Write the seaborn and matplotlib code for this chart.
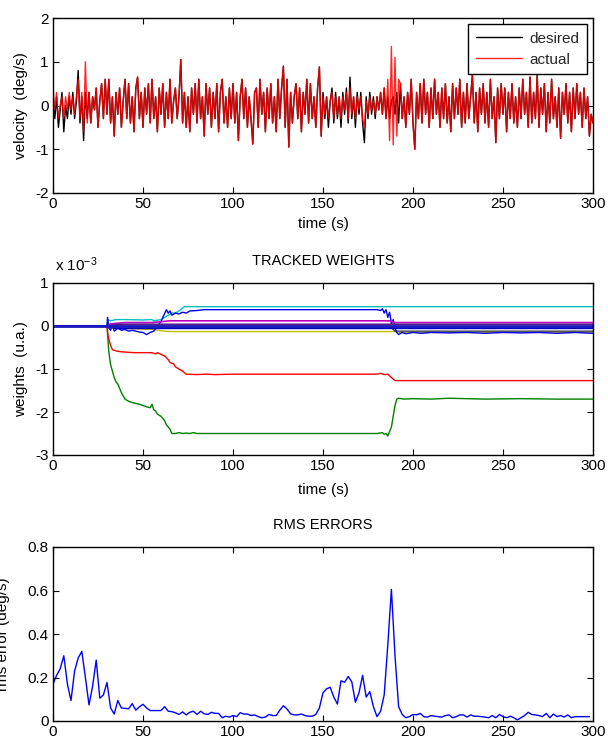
import numpy as np
import pandas as pd
import matplotlib
matplotlib.use("Agg")
import matplotlib.pyplot as plt
import seaborn as sns

# ---------------- data ----------------
# velocity (deg/s), one sample per second, t = 0..300
time_s = list(range(0, 301))
desired = [
    0.1, -0.3, 0.2, -0.5, -0.1, 0.3, -0.6, 0.0, -0.3, 0.2,
    -0.2, 0.3, -0.3, 0.1, 0.8, -0.4, 0.2, -0.8, 0.3, -0.3,
    0.3, -0.4, 0.2, -0.1, 0.4, -0.5, 0.1, 0.5, -0.3, 0.6,
    -0.2, 0.6, -0.4, 0.2, -0.7, 0.3, -0.2, 0.4, -0.5, 0.1,
    0.6, -0.3, 0.5, -0.4, 0.2, -0.6, 0.4, 0.65, -0.3, 0.3,
    -0.5, 0.4, -0.2, 0.5, -0.4, 0.6, -0.3, 0.2, -0.6, 0.4,
    -0.2, 0.5, -0.5, 0.3, -0.3, 0.6, -0.4, 0.1, 0.4, -0.3,
    0.2, 1.05, -0.4, 0.3, -0.5, 0.2, -0.6, 0.4, -0.2, 0.5,
    -0.4, 0.6, -0.3, 0.2, -0.7, 0.5, -0.2, 0.4, -0.5, 0.3,
    -0.3, 0.5, -0.6, 0.3, 0.6, -0.4, 0.2, -0.5, 0.4, -0.3,
    0.5, -0.4, 0.3, -0.8, 0.2, 0.6, -0.3, 0.4, -0.5, 0.2,
    -0.3, -0.88, 0.3, 0.4, -0.5, 0.6, -0.2, 0.3, -0.6, 0.4,
    -0.3, 0.5, -0.4, 0.2, -0.6, 0.6, -0.3, 0.4, 0.9, -0.5,
    0.6, -0.95, 0.3, -0.4, 0.2, 0.5, -0.3, 0.4, -0.6, 0.3,
    -0.2, 0.6, -0.4, 0.5, -0.3, 0.2, -0.5, 0.4, 0.88, -0.7,
    0.3, -0.3, 0.2, -0.5, 0.1, 0.4, -0.4, 0.3, -0.3, 0.2,
    -0.5, 0.3, -0.2, 0.4, -0.4, 0.65, -0.3, 0.2, -0.5, 0.3,
    -0.2, 0.3, -0.4, -0.85, 0.2, -0.3, 0.3, -0.2, 0.2, -0.3,
    0.2, -0.1, 0.3, -0.2, 0.4, -0.3, 0.2, -0.3, 0.1, 0.2,
    -0.2, 0.3, -0.4, 0.5, -0.3, 0.2, -0.5, 0.3, -0.2, 0.6,
    -0.4, -1.0, 0.3, -0.3, 0.5, -0.4, 0.6, -0.2, 0.3, -0.5,
    0.4, -0.3, 0.6, -0.2, 0.3, -0.5, 0.4, -0.3, 0.5, -0.4,
    0.2, -0.6, 0.5, -0.3, 0.4, -0.2, 0.6, -0.5, 0.3, -0.4,
    0.5, -0.3, 0.2, 0.7, -0.4, 0.3, -0.6, 0.4, -0.2, 0.5,
    -0.4, 0.3, -0.5, 0.6, -0.3, 0.2, -0.85, 0.4, -0.3, 0.5,
    -0.2, 0.4, -0.6, 0.3, -0.3, 0.5, -0.4, 0.2, -0.5, 0.4,
    -0.3, 0.6, -0.2, 0.3, -0.5, 0.65, -0.4, 0.3, -0.3, 0.7,
    -0.5, 0.4, -0.2, 0.5, -0.6, 0.3, -0.4, 0.6, -0.3, 0.2,
    -0.5, 0.4, -0.75, 0.3, -0.2, 0.5, -0.4, 0.3, -0.6, 0.4,
    -0.3, 0.5, -0.2, 0.3, -0.5, 0.4, -0.3, 0.2, -0.7, -0.2,
    -0.4,
]
actual = [
    0.4, -0.1, 0.3, -0.3, 0.0, 0.2, -0.3, 0.2, -0.1, 0.3,
    -0.1, 0.2, -0.2, 0.2, 0.6, -0.3, 0.3, -0.6, 1.0, -0.4,
    0.3, -0.4, 0.2, -0.1, 0.4, -0.5, 0.1, 0.5, -0.3, 0.6,
    -0.2, 0.6, -0.4, 0.2, -0.7, 0.3, -0.2, 0.4, -0.5, 0.1,
    0.6, -0.3, 0.5, -0.4, 0.2, -0.6, 0.4, 0.65, -0.3, 0.3,
    -0.5, 0.4, -0.2, 0.5, -0.4, 0.6, -0.3, 0.2, -0.6, 0.4,
    -0.2, 0.5, -0.5, 0.3, -0.3, 0.6, -0.4, 0.1, 0.4, -0.3,
    0.2, 1.05, -0.4, 0.3, -0.5, 0.2, -0.6, 0.4, -0.2, 0.5,
    -0.4, 0.6, -0.3, 0.2, -0.7, 0.5, -0.2, 0.4, -0.5, 0.3,
    -0.3, 0.5, -0.6, 0.3, 0.6, -0.4, 0.2, -0.5, 0.4, -0.3,
    0.5, -0.4, 0.3, -0.8, 0.2, 0.6, -0.3, 0.4, -0.5, 0.2,
    -0.3, -0.88, 0.3, 0.4, -0.5, 0.6, -0.2, 0.3, -0.6, 0.4,
    -0.3, 0.5, -0.4, 0.2, -0.6, 0.6, -0.3, 0.4, 0.9, -0.5,
    0.6, -0.95, 0.3, -0.4, 0.2, 0.5, -0.3, 0.4, -0.6, 0.3,
    -0.2, 0.6, -0.4, 0.5, -0.3, 0.2, -0.5, 0.4, 0.88, -0.7,
    0.2, -0.2, 0.2, -0.3, 0.1, 0.3, -0.3, 0.2, -0.2, 0.2,
    -0.3, 0.2, -0.1, 0.3, -0.3, 0.4, -0.2, 0.2, -0.3, 0.2,
    -0.1, 0.2, -0.3, -0.5, 0.1, -0.2, 0.2, -0.1, 0.1, -0.2,
    0.2, -0.1, 0.3, -0.2, 0.4, -0.3, 0.6, -0.8, 1.35, -0.9,
    1.1, -0.7, 0.6, 0.5, -0.3, 0.2, -0.5, 0.3, -0.2, 0.6,
    -0.4, -1.0, 0.3, -0.3, 0.5, -0.4, 0.6, -0.2, 0.3, -0.5,
    0.4, -0.3, 0.6, -0.2, 0.3, -0.5, 0.4, -0.3, 0.5, -0.4,
    0.2, -0.6, 0.5, -0.3, 0.4, -0.2, 0.6, -0.5, 0.3, -0.4,
    0.5, -0.3, 0.2, 0.7, -0.4, 0.3, -0.6, 0.4, -0.2, 0.5,
    -0.4, 0.3, -0.5, 0.6, -0.3, 0.2, -0.85, 0.4, -0.3, 0.5,
    -0.2, 0.4, -0.6, 0.3, -0.3, 0.5, -0.4, 0.2, -0.5, 0.4,
    -0.3, 0.6, -0.2, 0.3, -0.5, 0.65, -0.4, 0.3, -0.3, 0.7,
    -0.5, 0.4, -0.2, 0.5, -0.6, 0.3, -0.4, 0.6, -0.3, 0.2,
    -0.5, 0.4, -0.75, 0.3, -0.2, 0.5, -0.4, 0.3, -0.6, 0.4,
    -0.3, 0.5, -0.2, 0.3, -0.5, 0.4, -0.3, 0.2, -0.7, -0.2,
    -0.4,
]

# tracked weights (x 1e-3), (time, value) breakpoints
w_green = [(0, 0), (30, 0), (30.5, -0.3), (31, -0.6), (32, -0.9), (33, -1.05), (34, -1.2),
           (35, -1.3), (36, -1.35), (37, -1.45), (38, -1.55), (40, -1.7), (42, -1.75),
           (44, -1.78), (46, -1.8), (48, -1.82), (50, -1.85), (52, -1.88), (54, -1.9),
           (55, -1.82), (56, -1.95), (57, -1.98), (58, -2.05), (60, -2.1), (62, -2.2),
           (63, -2.3), (64, -2.35), (65, -2.4), (66, -2.5), (68, -2.5), (70, -2.48),
           (72, -2.5), (74, -2.49), (76, -2.5), (78, -2.48), (80, -2.5), (100, -2.5),
           (150, -2.5), (180, -2.5), (183, -2.48), (184, -2.52), (185, -2.5), (186, -2.56),
           (187, -2.45), (188, -2.35), (189, -2.1), (190, -1.85), (191, -1.7), (192, -1.68),
           (195, -1.7), (200, -1.69), (210, -1.7), (220, -1.68), (240, -1.7), (260, -1.69),
           (280, -1.7), (300, -1.7)]
w_red = [(0, 0), (30, 0), (30.5, -0.2), (31, -0.3), (32, -0.45), (33, -0.55), (35, -0.58),
         (38, -0.6), (45, -0.62), (55, -0.62), (57, -0.65), (58, -0.62), (60, -0.66),
         (62, -0.7), (64, -0.78), (65, -0.85), (67, -0.88), (68, -0.95), (70, -1.0),
         (72, -1.05), (74, -1.12), (80, -1.13), (85, -1.12), (90, -1.13), (100, -1.12),
         (150, -1.12), (180, -1.12), (182, -1.1), (184, -1.13), (186, -1.12), (188, -1.2),
         (190, -1.27), (300, -1.27)]
w_cyan = [(0, 0), (30, 0), (30.5, 0.15), (32, 0.12), (35, 0.15), (40, 0.15), (50, 0.14),
          (55, 0.15), (56, 0.12), (60, 0.15), (62, 0.2), (64, 0.25), (66, 0.3), (68, 0.3),
          (70, 0.35), (72, 0.42), (73, 0.45), (300, 0.45)]
w_blue = [(0, 0), (30, 0), (30.3, 0.2), (31, -0.05), (32, -0.1), (33, 0.05), (34, -0.12),
          (36, -0.05), (38, -0.1), (40, -0.08), (42, -0.12), (44, -0.1), (46, -0.12),
          (48, -0.14), (50, -0.15), (52, -0.2), (54, -0.15), (56, -0.12), (58, 0.0),
          (60, 0.1), (61, 0.2), (63, 0.38), (64, 0.3), (65, 0.35), (66, 0.25), (68, 0.3),
          (70, 0.28), (72, 0.32), (74, 0.3), (76, 0.35), (80, 0.36), (84, 0.38), (100, 0.38),
          (150, 0.38), (180, 0.38), (182, 0.36), (183, 0.4), (184, 0.3), (185, 0.38),
          (186, 0.2), (187, 0.32), (188, 0.05), (189, 0.15), (190, -0.05), (191, -0.15),
          (192, -0.2), (194, -0.15), (196, -0.18), (200, -0.15), (205, -0.17), (210, -0.15),
          (220, -0.16), (230, -0.15), (240, -0.17), (250, -0.15), (260, -0.16), (270, -0.15),
          (280, -0.17), (290, -0.15), (300, -0.17)]
w_magenta = [(0, 0), (30, 0), (32, 0.05), (40, 0.08), (55, 0.08), (60, 0.1), (65, 0.12),
             (187, 0.12), (190, 0.08), (300, 0.08)]
w_yellow = [(0, 0), (30, 0), (32, -0.05), (45, -0.07), (55, -0.08), (62, -0.12), (66, -0.13),
            (190, -0.13), (192, -0.15), (300, -0.15)]
w_gray = [(0, 0), (30, 0), (40, 0.03), (186, 0.03), (190, -0.12), (300, -0.12)]
w_zero_a = [(0, 0), (300, 0)]
w_zero_b = [(0, 0), (30, 0), (35, -0.05), (300, -0.05)]
w_zero_c = [(0, 0), (30, 0), (35, 0.04), (300, 0.04)]

# RMS error (deg/s), every 2 s
rms_t = list(range(0, 300, 2))
rms_v = [
    0.17, 0.21, 0.24, 0.30, 0.17, 0.094, 0.23, 0.29, 0.32, 0.20,
    0.074, 0.16, 0.28, 0.105, 0.12, 0.177, 0.06, 0.032, 0.094, 0.06,
    0.058, 0.056, 0.08, 0.05, 0.065, 0.077, 0.06, 0.048, 0.048, 0.048,
    0.048, 0.066, 0.045, 0.043, 0.038, 0.03, 0.042, 0.028, 0.04, 0.045,
    0.03, 0.045, 0.033, 0.03, 0.04, 0.035, 0.035, 0.015, 0.022, 0.018,
    0.025, 0.02, 0.038, 0.032, 0.032, 0.025, 0.028, 0.02, 0.015, 0.018,
    0.03, 0.025, 0.025, 0.05, 0.07, 0.055, 0.033, 0.028, 0.028, 0.032,
    0.025, 0.022, 0.022, 0.03, 0.06, 0.13, 0.148, 0.155, 0.11, 0.078,
    0.185, 0.178, 0.205, 0.18, 0.086, 0.13, 0.21, 0.11, 0.135, 0.066,
    0.02, 0.045, 0.12, 0.35, 0.605, 0.30, 0.066, 0.03, 0.015, 0.02,
    0.03, 0.028, 0.035, 0.02, 0.018, 0.025, 0.022, 0.02, 0.018, 0.025,
    0.028, 0.015, 0.02, 0.028, 0.028, 0.018, 0.028, 0.022, 0.022, 0.02,
    0.018, 0.015, 0.025, 0.015, 0.03, 0.02, 0.015, 0.022, 0.015, 0.005,
    0.015, 0.025, 0.04, 0.03, 0.028, 0.025, 0.02, 0.035, 0.015, 0.032,
    0.02, 0.025, 0.018, 0.028, 0.015, 0.02, 0.02, 0.02, 0.02, 0.02,
]

x_ticks = [0, 50, 100, 150, 200, 250, 300]
vel_ticks = [-2, -1, 0, 1, 2]
w_ticks = [-3, -2, -1, 0, 1]
rms_ticks = [0, 0.2, 0.4, 0.6, 0.8]

# ---------------- style ----------------
sns.set_theme(style="ticks")
plt.rcParams['font.family'] = ['Liberation Sans', 'DejaVu Sans']
plt.rcParams['axes.edgecolor'] = 'black'
plt.rcParams['axes.linewidth'] = 1.0
plt.rcParams['axes.unicode_minus'] = False
plt.rcParams['mathtext.default'] = 'regular'

W, H = 608, 742
fig = plt.figure(figsize=(W / 100, H / 100), dpi=100)
ax1 = fig.add_axes([53 / W, 1 - 193 / H, 540 / W, 175 / H])
ax2 = fig.add_axes([53 / W, 1 - 455 / H, 540 / W, 172 / H])
ax3 = fig.add_axes([53 / W, 1 - 721 / H, 540 / W, 174 / H])

FS = 11


def style(ax, yt):
    ax.set_xlim(0, 300)
    ax.set_xticks(x_ticks)
    ax.set_xticklabels([str(v) for v in x_ticks])
    ax.set_yticks(yt)
    ax.tick_params(direction='in', top=True, right=True, length=4, width=0.8,
                   labelsize=FS, colors='black', pad=3)
    for s in ax.spines.values():
        s.set_visible(True)
        s.set_color('black')
        s.set_linewidth(1.0)
    ax.set_facecolor('white')


# ---- top: velocity ----
vel = pd.DataFrame({'t': time_s, 'desired': desired, 'actual': actual})
sns.lineplot(data=vel, x='t', y='desired', ax=ax1, color='black', linewidth=1.0,
             estimator=None, sort=False, label='desired')
sns.lineplot(data=vel, x='t', y='actual', ax=ax1, color=(1.0, 0.0, 0.0), alpha=0.85,
             linewidth=1.0, estimator=None, sort=False, label='actual')
style(ax1, vel_ticks)
ax1.set_ylim(-2, 2)
ax1.set_yticklabels([str(v) for v in vel_ticks])
ax1.set_xlabel('time (s)', fontsize=FS, color='black', labelpad=4)
ax1.set_ylabel('velocity  (deg/s)', fontsize=FS, color='black')
ax1.yaxis.set_label_coords(-0.046, 0.5)
leg = ax1.legend(loc='upper right', fontsize=FS, frameon=True, fancybox=False,
                 edgecolor='black', framealpha=1.0, handlelength=3.0,
                 handletextpad=0.5, labelspacing=0.45, borderaxespad=0.4,
                 borderpad=0.5)
leg.get_frame().set_linewidth(1.0)

# ---- middle: weights ----
series = [
    (w_green, (0.0, 0.5, 0.0), 1.0),
    (w_red, (1.0, 0.0, 0.0), 1.0),
    (w_cyan, (0.0, 0.75, 0.75), 1.0),
    (w_yellow, (0.75, 0.75, 0.0), 1.0),
    (w_gray, (0.25, 0.25, 0.25), 1.0),
    (w_blue, (0.0, 0.0, 1.0), 1.0),
    (w_magenta, (0.75, 0.0, 0.75), 1.2),
    (w_zero_c, (0.35, 0.1, 0.55), 1.2),
    (w_zero_b, (0.0, 0.0, 0.8), 1.5),
    (w_zero_a, (0.1, 0.1, 0.75), 2.0),
]
for pts, col, lw in series:
    tx = [p[0] for p in pts]
    wy = [p[1] for p in pts]
    sns.lineplot(x=tx, y=wy, ax=ax2, color=col, linewidth=lw, estimator=None, sort=False)
style(ax2, w_ticks)
ax2.set_ylim(-3, 1)
ax2.set_yticklabels([str(v) for v in w_ticks])
ax2.set_xlabel('time (s)', fontsize=FS, color='black', labelpad=7)
ax2.set_ylabel('weights  (u.a.)', fontsize=FS, color='black')
ax2.yaxis.set_label_coords(-0.046, 0.5)
ax2.set_title('TRACKED WEIGHTS', fontsize=10.5, color='black', pad=13)
ax2.text(0.003, 1.055, r'x 10$^{-3}$', transform=ax2.transAxes, fontsize=FS,
         ha='left', va='bottom', color='black')

# ---- bottom: rms ----
sns.lineplot(x=rms_t, y=rms_v, ax=ax3, color=(0.0, 0.0, 1.0), linewidth=1.0,
             estimator=None, sort=False)
style(ax3, rms_ticks)
ax3.set_ylim(0, 0.8)
ax3.set_yticklabels(['0', '0.2', '0.4', '0.6', '0.8'])
ax3.set_xlabel('')
ax3.set_ylabel('rms error (deg/s)', fontsize=FS, color='black')
ax3.yaxis.set_label_coords(-0.080, 0.5)
ax3.set_title('RMS ERRORS', fontsize=10.5, color='black', pad=13)

fig.savefig('out.png', dpi=100, facecolor='white')
